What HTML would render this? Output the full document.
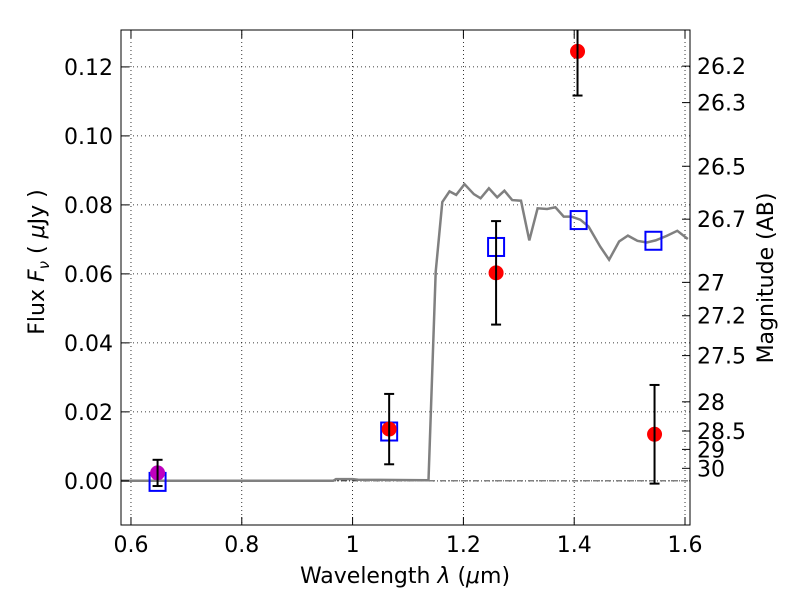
<!DOCTYPE html>
<html><head><meta charset="utf-8"><style>
body{margin:0;background:#fff}
svg text{font-family:"DejaVu Sans","Liberation Sans",sans-serif;fill:#000}
</style></head><body>
<svg id="chart" width="800" height="600" xmlns="http://www.w3.org/2000/svg">
<defs><clipPath id="clip"><rect x="121" y="30" width="569" height="495"/></clipPath></defs>
<rect width="800" height="600" fill="#fff"/>
<g id="grid"></g><g id="marks" clip-path="url(#clip)"></g><g id="axes"></g>
</svg>
<script>
const xTicks=[0.6,0.8,1.0,1.2,1.4,1.6];
const xTickLabels=["0.6","0.8","1","1.2","1.4","1.6"];
const yTicks=[0,0.02,0.04,0.06,0.08,0.10,0.12];
const yTickLabels=["0.00","0.02","0.04","0.06","0.08","0.10","0.12"];
const magTicks=[26.2,26.3,26.5,26.7,27,27.2,27.5,28,28.5,29,30];
const magTickLabels=["26.2","26.3","26.5","26.7","27","27.2","27.5","28","28.5","29","30"];
const modelWave=[0.582,0.965,0.97,1.0,1.01,1.137,1.150,1.162,1.175,1.187,1.202,1.219,1.231,1.246,1.261,1.274,1.288,1.304,1.319,1.334,1.351,1.366,1.381,1.395,1.411,1.426,1.447,1.463,1.481,1.497,1.514,1.531,1.547,1.567,1.586,1.605];
const modelFlux=[0,0,0.0005,0.0005,0.0003,0.0002,0.0606,0.0808,0.0839,0.0829,0.0860,0.0831,0.0819,0.0848,0.0822,0.0841,0.0814,0.0812,0.0697,0.0790,0.0788,0.0793,0.0766,0.0766,0.0757,0.0737,0.0679,0.0641,0.0694,0.0711,0.0696,0.0691,0.0697,0.0710,0.0725,0.0701];
const obsWave=[1.066,1.259,1.406,1.545];
const obsFlux=[0.0150,0.0603,0.1245,0.0135];
const obsErr=[0.0102,0.0150,0.0128,0.0143];
const purpleWave=[0.648];
const purpleFlux=[0.0023];
const purpleErr=[0.0038];
const modelPtWave=[0.648,1.066,1.259,1.408,1.543];
const modelPtFlux=[-0.0003,0.0143,0.0678,0.0756,0.0696];

const L=121,R=690,T=30,B=525,xmin=0.582,xmax=1.609,ymin=-0.0128,ymax=0.1307;
const X=v=>L+(v-xmin)/(xmax-xmin)*(R-L);
const Y=v=>B-(v-ymin)/(ymax-ymin)*(B-T);
const magToFlux=m=>Math.pow(10,(23.9-m)/2.5);
const NS="http://www.w3.org/2000/svg";
function mk(tag,attrs,parent,txt){const e=document.createElementNS(NS,tag);for(const k in attrs)e.setAttribute(k,attrs[k]);if(txt!==undefined)e.textContent=txt;document.getElementById(parent).appendChild(e);return e;}
xTicks.forEach(v=>{const e=mk('line',{x1:X(v),x2:X(v),y1:T,y2:B,stroke:'#000','stroke-width':0.8,'stroke-dasharray':'1,3'},'grid');

});
yTicks.forEach(v=>{const e=mk('line',{x1:L,x2:R,y1:Y(v),y2:Y(v),stroke:'#000','stroke-width':0.8,'stroke-dasharray':'1,3'},'grid');

});
let z=mk('line',{x1:L,x2:R,y1:Y(0),y2:Y(0),stroke:'#000','stroke-width':0.8,'stroke-dasharray':'6,2,1,2'},'grid');


let pts=modelWave.map((w,i)=>X(w).toFixed(1)+','+Y(modelFlux[i]).toFixed(1)).join(' ');
let ml=mk('polyline',{points:pts,fill:'none',stroke:'#808080','stroke-width':2.5},'marks');


modelPtWave.forEach((w,i)=>{const e=mk('rect',{x:X(w)-8,y:Y(modelPtFlux[i])-9,width:16,height:18,fill:'none',stroke:'#0000ff','stroke-width':2},'marks');

});
function errPt(w,f,er,col,name){
 const x=X(w);
 const g=document.createElementNS(NS,'g');document.getElementById('marks').appendChild(g);
 
 
 const c=document.createElementNS(NS,'circle');c.setAttribute('cx',x);c.setAttribute('cy',Y(f));c.setAttribute('r',7.5);c.setAttribute('fill',col);g.appendChild(c);
 [[x,Y(f-er),x,Y(f+er)],[x-5,Y(f-er),x+5,Y(f-er)],[x-5,Y(f+er),x+5,Y(f+er)]].forEach(a=>{const l=document.createElementNS(NS,'line');l.setAttribute('x1',a[0]);l.setAttribute('y1',a[1]);l.setAttribute('x2',a[2]);l.setAttribute('y2',a[3]);l.setAttribute('stroke','#000');l.setAttribute('stroke-width',2);g.appendChild(l);});
}
obsWave.forEach((w,i)=>errPt(w,obsFlux[i],obsErr[i],'#ff0000','observed-flux-point'));
purpleWave.forEach((w,i)=>errPt(w,purpleFlux[i],purpleErr[i],'#bf00bf','purple-flux-point'));
let fr=mk('rect',{x:L,y:T,width:R-L,height:B-T,fill:'none',stroke:'#000','stroke-width':1},'axes');


xTicks.forEach((v,i)=>{mk('line',{x1:X(v),x2:X(v),y1:B,y2:B-8,stroke:'#000'},'axes');mk('line',{x1:X(v),x2:X(v),y1:T,y2:T+8,stroke:'#000'},'axes');
 const t=mk('text',{x:X(v),y:B+27,'font-size':22,'text-anchor':'middle'},'axes',xTickLabels[i]);
 
 });
yTicks.forEach((v,i)=>{mk('line',{x1:L,x2:L+8,y1:Y(v),y2:Y(v),stroke:'#000'},'axes');
 const t=mk('text',{x:L-8,y:Y(v)+8,'font-size':22,'text-anchor':'end'},'axes',yTickLabels[i]);
 
 });
magTicks.forEach((m,i)=>{const y=Y(magToFlux(m));mk('line',{x1:R,x2:R-8,y1:y,y2:y,stroke:'#000'},'axes');
 const t=mk('text',{x:R+7,y:y+8,'font-size':22},'axes',magTickLabels[i]);
 
 });
let xl=mk('text',{x:405,y:583,'font-size':22,'text-anchor':'middle'},'axes');
xl.innerHTML='Wavelength  <tspan font-style="italic">λ</tspan> (<tspan font-style="italic">μ</tspan>m)';


let yl=mk('text',{x:0,y:0,'font-size':22,'text-anchor':'middle',transform:'translate(44,262) rotate(-90)'},'axes');
yl.innerHTML='Flux  <tspan font-style="italic">F</tspan><tspan font-style="italic" font-size="15" dy="5">ν</tspan><tspan dy="-5">  (  </tspan><tspan font-style="italic">μ</tspan>Jy )';


let y2=mk('text',{x:0,y:0,'font-size':22,'text-anchor':'middle',transform:'translate(773,278) rotate(-90)'},'axes','Magnitude (AB)');


</script>
</body></html>
